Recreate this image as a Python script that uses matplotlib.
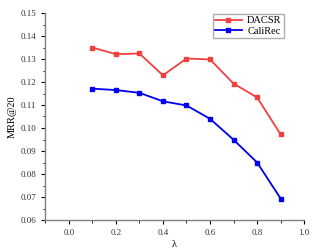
import matplotlib.pyplot as plt
from matplotlib.ticker import MultipleLocator, FormatStrFormatter

plt.switch_backend("Agg")

lambdas = [0.1, 0.2, 0.3, 0.4, 0.5, 0.6, 0.7, 0.8, 0.9]
dacsr = [0.1350, 0.1321, 0.1324, 0.1229, 0.1302, 0.1298, 0.1193, 0.1133, 0.0972]
calirec = [0.1171, 0.1165, 0.1153, 0.1116, 0.1098, 0.1040, 0.0949, 0.0850, 0.0693]

plt.rcParams["font.family"] = ["Liberation Serif", "DejaVu Serif"]

fig, ax = plt.subplots(figsize=(3.12, 2.5), dpi=100)
fig.subplots_adjust(left=0.145, right=0.975, bottom=0.12, top=0.948)

ax.plot(lambdas, dacsr, color="#f04040", marker="s", markersize=2.6,
        linewidth=1.3, label="DACSR")
ax.plot(lambdas, calirec, color="#0000ee", marker="s", markersize=2.6,
        linewidth=1.3, label="CaliRec")

ax.set_xlim(-0.1, 1.0)
ax.set_ylim(0.06, 0.15)
ax.xaxis.set_major_locator(MultipleLocator(0.2))
ax.xaxis.set_minor_locator(MultipleLocator(0.1))
ax.yaxis.set_major_locator(MultipleLocator(0.01))
ax.yaxis.set_minor_locator(MultipleLocator(0.005))
ax.xaxis.set_major_formatter(FormatStrFormatter("%.1f"))
ax.yaxis.set_major_formatter(FormatStrFormatter("%.2f"))

for side in ("top", "right"):
    ax.spines[side].set_visible(False)
for side in ("left", "bottom"):
    ax.spines[side].set_color("#808080")
    ax.spines[side].set_linewidth(1.0)

ax.tick_params(which="major", length=3, width=0.8, labelsize=6.5, color="black",
               labelcolor="#333333")
ax.tick_params(which="minor", length=1.8, width=0.6, color="black")

ax.set_xlabel("λ", fontsize=7.5, labelpad=2)
ax.set_ylabel("MRR@20", fontsize=7.5, labelpad=3)

ax.legend(loc="upper right", bbox_to_anchor=(0.925, 1.0), fontsize=7.5,
          frameon=True, fancybox=False, edgecolor="#999999",
          handlelength=2.6, borderpad=0.2, labelspacing=0.1,
          handletextpad=0.5, borderaxespad=0.1)

fig.savefig("out.png", dpi=100)
plt.close(fig)
